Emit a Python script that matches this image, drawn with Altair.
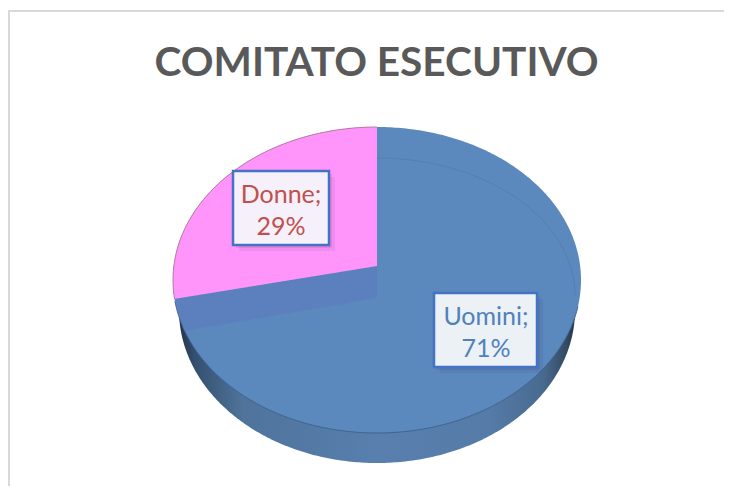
import math
import altair as alt
import pandas as pd

categories = ["Donne", "Uomini"]
shares = [29, 71]
title_text = "COMITATO ESECUTIVO"

W, H = 716, 478
X = alt.Scale(domain=[8, 8 + W], nice=False, zero=False)
Y = alt.Scale(domain=[8, 8 + H], nice=False, zero=False, reverse=True)
xe = alt.X("x:Q", scale=X, axis=None)
ye = alt.Y("y:Q", scale=Y, axis=None)
y2e = alt.Y2("y2:Q")
x2e = alt.X2("x2:Q")

CX, CY, RX, RY = 377, 280, 204, 153      # face of the pie
VY = 266                                 # apex of the raised slice
FORESHORTEN = 0.93                       # perspective squeeze of the slice angle
DROP = 32                                # wall height under the slice
BOTTOM = dict(cy=310, rx=198, ry=153)    # base of the disc
INNER = dict(cy=296, rx=198, ry=138)     # faint inner rim


def half(x, cx, cy, rx, ry):
    u = (x - cx) / rx
    d = ry * math.sqrt(max(0, 1 - u * u))
    return cy - d, cy + d


def sweep(cx, rx, a0=-math.pi / 2, a1=math.pi / 2, n=240):
    return [cx + rx * math.sin(a0 + (a1 - a0) * i / n) for i in range(n + 1)]


# side of the disc
side = [{"x": x, "y": CY, "y2": half(x, CX, BOTTOM["cy"], BOTTOM["rx"], BOTTOM["ry"])[1]}
        for x in sweep(CX, BOTTOM["rx"])]
side_grad = alt.LinearGradient(
    gradient="linear", x1=0, x2=1, y1=0, y2=0,
    stops=[
        alt.GradientStop(offset=0.0, color="#24344c"),
        alt.GradientStop(offset=0.04, color="#34506f"),
        alt.GradientStop(offset=0.16, color="#4f739b"),
        alt.GradientStop(offset=0.50, color="#587fae"),
        alt.GradientStop(offset=0.78, color="#557ba8"),
        alt.GradientStop(offset=0.92, color="#486a90"),
        alt.GradientStop(offset=0.98, color="#33495f"),
        alt.GradientStop(offset=1.0, color="#24344c"),
    ],
)
l_side = alt.Chart(pd.DataFrame(side)).mark_area(orient="vertical", color=side_grad).encode(x=xe, y=ye, y2=y2e)

# face of the pie
face = [dict(zip(("y", "y2"), half(x, CX, CY, RX, RY)), x=x) for x in sweep(CX, RX)]
l_face = alt.Chart(pd.DataFrame(face)).mark_area(orient="vertical", color="#5b88bd").encode(x=xe, y=ye, y2=y2e)

# inner rim, upper right
rim = []
for i in range(121):
    a = math.pi / 2 * i / 120
    rim.append({"x": CX + INNER["rx"] * math.sin(a), "y": INNER["cy"] - INNER["ry"] * math.cos(a), "i": i})
l_rim = alt.Chart(pd.DataFrame(rim)).mark_line(color="#5480b0", strokeWidth=1).encode(x=xe, y=ye, order="i:Q")

# front edge of the face
edge = []
for i in range(241):
    a = math.radians(100 + (262 - 100) * i / 240)
    edge.append({"x": CX + RX * math.sin(a), "y": CY - RY * math.cos(a), "i": i})
l_edge = alt.Chart(pd.DataFrame(edge)).mark_line(color="#3f6491", strokeWidth=1).encode(x=xe, y=ye, order="i:Q")

# raised slice, taken from the share of the first category
angle = math.radians(shares[0] * 3.6 * FORESHORTEN)
ex = CX - RX * math.sin(angle)
ey = CY - RY * math.cos(angle)


def on_top_line(x):
    return VY + (ey - VY) * (CX - x) / (CX - ex)


wedge = []
for x in sorted(set(sweep(CX, RX, -math.pi / 2, 0, 300)) | {ex}):
    top, low = half(x, CX, CY, RX, RY)
    wedge.append({"x": x, "y": top, "y2": low if x < ex else on_top_line(x)})
l_wedge = alt.Chart(pd.DataFrame(wedge)).mark_area(orient="vertical", color="#ff94fb").encode(x=xe, y=ye, y2=y2e)

arc = []
for i in range(161):
    a = angle * i / 160
    arc.append({"x": CX - RX * math.sin(a), "y": CY - RY * math.cos(a), "i": i})
l_arc = alt.Chart(pd.DataFrame(arc)).mark_line(color="#b77a9f", strokeWidth=1).encode(x=xe, y=ye, order="i:Q")

# wall under the slice
wx = ex + 10
wy = ey + DROP
wall = []
for i in range(101):
    x = ex + (CX - ex) * i / 100
    if x < wx:
        low = ey + (wy - ey) * (x - ex) / (wx - ex)
    else:
        low = wy + (VY + DROP - wy) * (x - wx) / (CX - wx)
    wall.append({"x": x, "y": on_top_line(x), "y2": low})
l_wall = alt.Chart(pd.DataFrame(wall)).mark_area(orient="vertical", color="#5c80bd").encode(x=xe, y=ye, y2=y2e)

# chart frame
frame = (
    alt.Chart(pd.DataFrame({"x": [9, 9, 724], "y": [486, 11, 11], "i": [0, 1, 2]}))
    .mark_line(color="#d9d9d9", strokeWidth=2)
    .encode(x=xe, y=ye, order="i:Q")
)

# title
l_title = alt.Chart(pd.DataFrame({"x": [376.5], "y": [64], "t": [title_text]})).mark_text(
    font="Lato", fontSize=40.6, fontWeight="bold", color="#595959", align="center", baseline="middle"
).encode(x=xe, y=ye, text="t:N")

# data labels
boxes = pd.DataFrame({
    "x": [233, 434], "x2": [329, 537], "y": [171, 293], "y2": [245, 367],
    "fill": ["#f6f0fa", "#ecf1f6"],
})
shadow = boxes.copy()
shadow[["x", "x2"]] += 3
shadow[["y", "y2"]] += 3
soft = boxes.copy()
soft[["x", "x2"]] += 6
soft[["y", "y2"]] += 6
l_soft = alt.Chart(soft).mark_rect(color="#30304a", opacity=0.08).encode(x=xe, x2=x2e, y=ye, y2=y2e)
l_shadow = alt.Chart(shadow).mark_rect(color="#30304a", opacity=0.10).encode(x=xe, x2=x2e, y=ye, y2=y2e)
l_box = alt.Chart(boxes).mark_rect(stroke="#4472c4", strokeWidth=2.5).encode(
    x=xe, x2=x2e, y=ye, y2=y2e, fill=alt.Fill("fill:N", scale=None)
)

label_rows = []
for name, share, cx_, top, col in zip(categories, shares, [281, 486], [195, 317], ["#c0504d", "#4f81bd"]):
    label_rows.append({"x": cx_, "y": top, "t": f"{name};", "c": col})
    label_rows.append({"x": cx_, "y": top + 32, "t": f"{share}%", "c": col})
l_text = alt.Chart(pd.DataFrame(label_rows)).mark_text(
    font="Lato", fontSize=25, align="center", baseline="middle"
).encode(x=xe, y=ye, text="t:N", color=alt.Color("c:N", scale=None))

chart = (
    alt.layer(frame, l_title, l_side, l_face, l_rim, l_edge, l_wall, l_wedge, l_arc,
              l_soft, l_shadow, l_box, l_text)
    .properties(width=W, height=H, padding=0, background="white", autosize=alt.AutoSizeParams(type="none"))
    .configure_view(stroke=None)
)
chart.save("out.html", embed_options={"renderer": "svg", "actions": False})
